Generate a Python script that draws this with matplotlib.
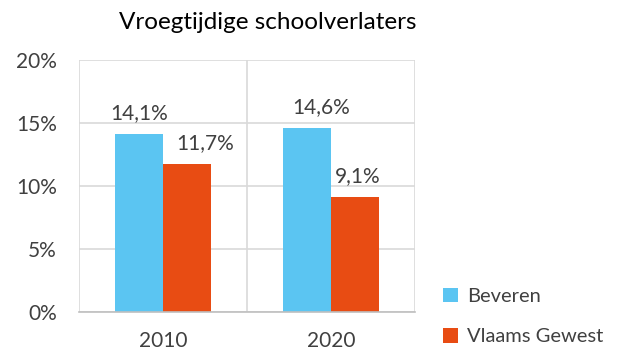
import numpy as np
import matplotlib.pyplot as plt

jaren = ['2010', '2020']
beveren = [14.1, 14.6]
vlaams_gewest = [11.7, 9.1]
yticks = [0, 5, 10, 15, 20]

blauw = '#5bc5f2'
oranje = '#e84c13'
tekst = '#404040'

plt.rcParams['font.family'] = ['Lato', 'DejaVu Sans']

fig = plt.figure(figsize=(6.25, 3.53), dpi=100)
ax = fig.add_axes([0.1264, 0.1161, 0.5376, 0.715])

x = np.arange(len(jaren))
w = 0.2857
b1 = ax.bar(x - w / 2, beveren, w, color=blauw, label='Beveren', zorder=3)
b2 = ax.bar(x + w / 2, vlaams_gewest, w, color=oranje, label='Vlaams Gewest', zorder=3)

# labels boven de balken
for bars, vals, dx in [(b1, beveren, [0, 10]), (b2, vlaams_gewest, [13, 2])]:
    for rect, v, d in zip(bars, vals, dx):
        ax.annotate(f'{v:.1f}%'.replace('.', ','),
                    (rect.get_x() + rect.get_width() / 2, v),
                    xytext=(d, 8), textcoords='offset points',
                    ha='center', va='bottom', fontsize=15, color=tekst)

ax.set_xlim(-0.5, 1.5)
ax.set_ylim(0, 20)
ax.set_yticks(yticks)
ax.set_yticklabels([f'{t}%' for t in yticks])
ax.set_xticks(x)
ax.set_xticklabels(jaren)
ax.tick_params(length=0, labelsize=15, colors=tekst)
ax.tick_params(axis='x', pad=14)
ax.tick_params(axis='y', pad=16)

ax.set_xticks([-0.5, 0.5, 1.5], minor=True)
ax.grid(axis='y', color='#d9d9d9', lw=1.2, zorder=0)
ax.grid(axis='x', which='minor', color='#d9d9d9', lw=1.2, zorder=0)
ax.tick_params(which='minor', length=0)
for s in ['top', 'right', 'left']:
    ax.spines[s].set_visible(False)
ax.spines['bottom'].set_color('#bfbfbf')
ax.spines['bottom'].set_linewidth(1.2)
ax.spines['bottom'].set_zorder(4)

fig.text(0.429, 0.935, 'Vroegtijdige schoolverlaters', ha='center', va='center',
         fontsize=17.5, color='#000000')

fig.legend(handles=[b1, b2], loc='lower left', bbox_to_anchor=(0.68, -0.03),
           frameon=False, fontsize=14.5, labelcolor=tekst, handlelength=0.75,
           handleheight=0.75, handletextpad=0.45, labelspacing=1.15)

fig.savefig('out.png', dpi=100)
